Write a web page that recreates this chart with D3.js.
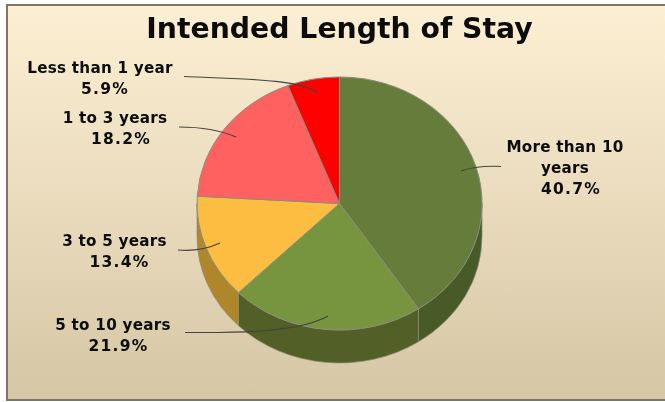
<!DOCTYPE html>
<html>
<head>
<meta charset="utf-8">
<script src="https://cdn.jsdelivr.net/npm/d3@7"></script>
<style>
  html, body { margin: 0; padding: 0; background: #fff; overflow: hidden; }
  svg { display: block; filter: blur(0.35px); }
  text { font-family: "DejaVu Sans", sans-serif; font-weight: bold; fill: #0c0c0c; text-anchor: middle; }
</style>
</head>
<body>
<div id="chart"></div>
<script>
var title = "Intended Length of Stay";
var categories = ["More than 10 years", "5 to 10 years", "3 to 5 years", "1 to 3 years", "Less than 1 year"];
var values = [40.7, 21.9, 13.4, 18.2, 5.9];
var valueLabels = ["40.7%", "21.9%", "13.4%", "18.2%", "5.9%"];

var topColors = ["#667c3a", "#76953e", "#fdbd40", "#ff6161", "#ff0000"];
var sideColors = ["#475a27", "#525f27", "#b0862b", "#b04343", "#b00000"];

// label placement, same order as categories: [x of name, x of value, baseline of first line]
var labelLines = [["More than 10", "years"], ["5 to 10 years"], ["3 to 5 years"], ["1 to 3 years"], ["Less than 1 year"]];
var labelPos = [[565, 571, 152], [113, 118.5, 330], [114.5, 119.5, 246], [115, 121, 123], [100, 105, 73]];
var leaders = [
  "M501 166.5C490 166 475 166 461 171",
  "M185 332.5C240 333 300 332 328 316",
  "M178 250C190 251 205 250 220 243",
  "M179 127C200 127 220 130 236 137",
  "M184 76.5C230 79 300 78 317 93"
];

var width = 665, height = 402;
var cx = 339.5, cy = 203.5, rx = 142.5, ry = 126.5, depth = 33;

var svg = d3.select("#chart").append("svg")
    .attr("width", width)
    .attr("height", height);

var grad = svg.append("defs").append("linearGradient")
    .attr("id", "bg")
    .attr("x1", 0).attr("y1", 0).attr("x2", 0).attr("y2", 1);
grad.append("stop").attr("offset", "0%").attr("stop-color", "#fdefd3");
grad.append("stop").attr("offset", "100%").attr("stop-color", "#d5c7a5");

svg.append("rect")
    .attr("x", 7).attr("y", 5)
    .attr("width", width + 10).attr("height", 395)
    .attr("fill", "url(#bg)")
    .attr("stroke", "#7d7662")
    .attr("stroke-width", 2);

svg.append("text")
    .attr("x", 339.5).attr("y", 38)
    .style("font-size", "28.3px")
    .text(title);

var pie = d3.pie().sort(null).value(function (d) { return d; });
var slices = pie(values);

function px(a) { return cx + rx * Math.sin(a); }
function py(a) { return cy - ry * Math.cos(a); }

// side wall of a slice: only the part between 90 and 270 degrees faces the viewer
function wall(d) {
  var a0 = Math.max(d.startAngle, Math.PI / 2),
      a1 = Math.min(d.endAngle, Math.PI * 1.5);
  if (a1 <= a0) return null;
  return "M" + px(a0) + " " + py(a0)
    + "A" + rx + " " + ry + " 0 0 1 " + px(a1) + " " + py(a1)
    + "L" + px(a1) + " " + (py(a1) + depth)
    + "A" + rx + " " + ry + " 0 0 0 " + px(a0) + " " + (py(a0) + depth)
    + "Z";
}

svg.append("g").selectAll("path")
    .data(slices.filter(function (d) { return wall(d); }))
    .enter().append("path")
    .attr("d", wall)
    .attr("fill", function (d) { return sideColors[d.index]; })
    .attr("stroke", "#8a8a78")
    .attr("stroke-opacity", 0.7)
    .attr("stroke-width", 1);

var arc = d3.arc().innerRadius(0).outerRadius(1);

svg.append("g")
    .attr("transform", "translate(" + cx + "," + cy + ") scale(" + rx + "," + ry + ")")
    .selectAll("path")
    .data(slices)
    .enter().append("path")
    .attr("d", arc)
    .attr("fill", function (d) { return topColors[d.index]; })
    .attr("stroke", "#8c8c7c")
    .attr("stroke-width", 1)
    .attr("vector-effect", "non-scaling-stroke");

svg.append("g").selectAll("path")
    .data(leaders)
    .enter().append("path")
    .attr("d", function (d) { return d; })
    .attr("fill", "none")
    .attr("stroke", "#444")
    .attr("stroke-width", 1.1);

categories.forEach(function (c, i) {
  var g = svg.append("g").style("font-size", "15.2px");
  var base = labelPos[i][2];
  labelLines[i].forEach(function (line, j) {
    g.append("text")
      .attr("x", labelPos[i][0]).attr("y", base + j * 21)
      .style("letter-spacing", "0.25px")
      .text(line);
  });
  g.append("text")
    .attr("x", labelPos[i][1])
    .attr("y", base + labelLines[i].length * 21)
    .style("font-size", "15.5px")
    .style("letter-spacing", "1.2px")
    .text(valueLabels[i]);
});
</script>
</body>
</html>
